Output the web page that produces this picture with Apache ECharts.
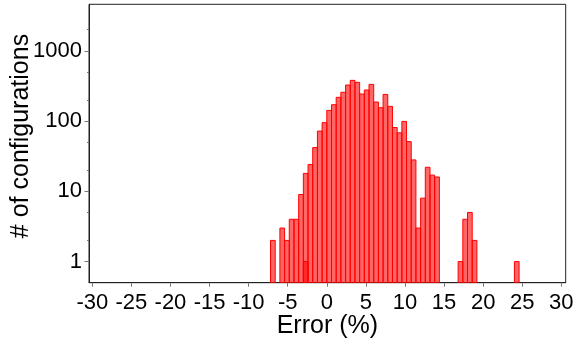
<!DOCTYPE html>
<html>
<head>
<meta charset="utf-8">
<script src="https://cdn.jsdelivr.net/npm/echarts@6/dist/echarts.min.js"></script>
<style>
  html, body { margin: 0; padding: 0; background: #fff; }
  #chart { width: 576px; height: 346px; }
</style>
</head>
<body>
<div id="chart"></div>
<script>
// Histogram bins: lower edge of the first bin and the common bin width (Error, %)
const binStart = -7.2;
const binWidth = 0.6;

// Number of configurations in each bin
const counts = [
  2, 0, 3, 2, 4, 4, 9, 18, 24, 42,
  72, 95, 142, 171, 218, 257, 326, 380, 356, 243,
  277, 333, 187, 155, 240, 162, 81, 68, 99, 51,
  28, 3, 8, 22, 17, 16, 0, 0, 0, 0,
  1, 4, 5, 2, 0, 0, 0, 0, 0, 0,
  0, 0, 1
];

// Second, overlapping histogram (only one occupied bin)
const overlapBins = [7];
const overlapCounts = [1];

// Axis ranges and tick positions
const xRange = [-30.42, 30.56];
const yRange = [0.5, 4600];
const xTicks = [-30, -25, -20, -15, -10, -5, 0, 5, 10, 15, 20, 25, 30];
const yMajorTicks = [1, 10, 100, 1000];
const yMinorTicks = [2, 5, 20, 50, 200, 500, 2000];

function binRows(bins, values) {
  const rows = [];
  bins.forEach(function (b, i) {
    if (values[i] > 0) {
      const lo = binStart + b * binWidth;
      rows.push([lo, lo + binWidth, values[i]]);
    }
  });
  return rows;
}

const mainRows = binRows(counts.map(function (_, i) { return i; }), counts);
const overlapRows = binRows(overlapBins, overlapCounts);

function renderBin(params, api) {
  const top = api.coord([api.value(0), api.value(2)]);
  const base = api.coord([api.value(1), yRange[0]]);
  return {
    type: 'rect',
    shape: { x: top[0], y: top[1], width: base[0] - top[0], height: base[1] - top[1] },
    style: { fill: 'rgba(255,0,0,0.6)', stroke: '#ff0000', lineWidth: 1 }
  };
}

const fontFamily = '"Liberation Sans", Arial, Helvetica, sans-serif';
const plainNumber = function (v) { return String(v); };

const chart = echarts.init(document.getElementById('chart'), null, { renderer: 'canvas' });
chart.setOption({
  animation: false,
  backgroundColor: '#ffffff',
  grid: {
    left: 89, right: 10.3, top: 4.3, bottom: 63.3,
    outerBoundsMode: 'none',
    containLabel: false,
    show: true, borderColor: '#222', borderWidth: 1, backgroundColor: 'transparent'
  },
  xAxis: {
    type: 'value',
    min: xRange[0], max: xRange[1],
    name: 'Error (%)',
    nameLocation: 'middle',
    nameMoveOverlap: false,
    nameGap: 31,
    nameTextStyle: { fontFamily: fontFamily, fontSize: 25, color: '#000' },
    axisLine: { show: true, onZero: false, lineStyle: { color: '#222', width: 1 } },
    axisTick: { show: true, customValues: xTicks, length: 4, lineStyle: { color: '#777' } },
    axisLabel: { customValues: xTicks, formatter: plainNumber, margin: 9, fontFamily: fontFamily, fontSize: 22, color: '#000' },
    splitLine: { show: false }
  },
  yAxis: [{
    type: 'log',
    min: yRange[0], max: yRange[1],
    position: 'left',
    name: '# of configurations',
    nameLocation: 'middle',
    nameMoveOverlap: false,
    nameGap: 55,
    nameTextStyle: { fontFamily: fontFamily, fontSize: 25, color: '#000', padding: [0, 0, 0, 15] },
    axisLine: { show: true, onZero: false, lineStyle: { color: '#222', width: 1 } },
    axisTick: { show: true, customValues: yMajorTicks, length: 4.5, lineStyle: { color: '#777' } },
    axisLabel: { customValues: yMajorTicks, formatter: plainNumber, margin: 7, fontFamily: fontFamily, fontSize: 22, color: '#000' },
    splitLine: { show: false }
  }, {
    type: 'log',
    min: yRange[0], max: yRange[1],
    position: 'left',
    offset: 0,
    axisLine: { show: false, onZero: false },
    axisTick: { show: true, customValues: yMinorTicks, length: 2, lineStyle: { color: '#777' } },
    axisLabel: { show: false },
    splitLine: { show: false }
  }],
  series: [{
    type: 'custom',
    name: 'configurations',
    xAxisIndex: 0, yAxisIndex: 0,
    renderItem: renderBin,
    encode: { x: [0, 1], y: 2 },
    data: mainRows,
    clip: true
  }, {
    type: 'custom',
    name: 'overlap',
    xAxisIndex: 0, yAxisIndex: 0,
    renderItem: renderBin,
    encode: { x: [0, 1], y: 2 },
    data: overlapRows,
    clip: true
  }]
});
</script>
</body>
</html>
